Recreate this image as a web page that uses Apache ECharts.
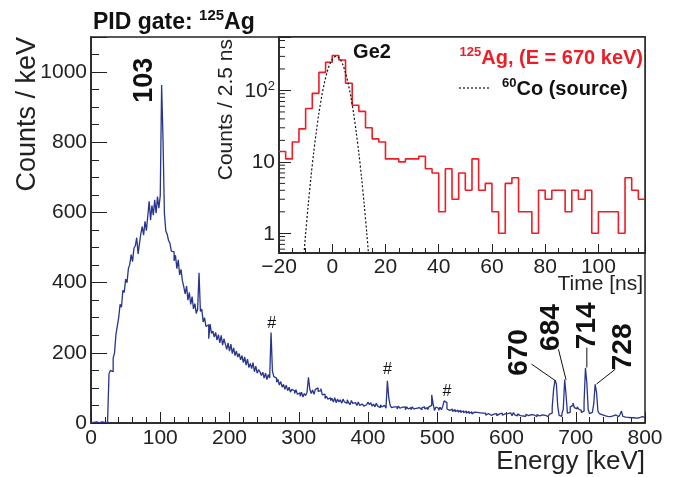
<!DOCTYPE html>
<html><head><meta charset="utf-8">
<script src="https://cdn.jsdelivr.net/npm/echarts@6/dist/echarts.min.js"></script>
<style>html,body{margin:0;padding:0;background:#fff}#c{width:677px;height:477px}</style>
</head><body><div id="c"></div>
<script>
// ---------------- data ----------------
const energyStart = 0;      // keV
const energyBinWidth = 2;   // keV
const energyCounts = [
  1, 2, 1, 3, 2, 1, 2, 3, 2, 2,
  3, 2, 8, 140, 150, 146, 185, 200, 252, 276,
  300, 338, 330, 378, 372, 410, 400, 440, 452, 480,
  460, 498, 505, 528, 482, 512, 540, 560, 535, 575,
  548, 590, 632, 578, 620, 592, 636, 598, 645, 612,
  648, 963, 808, 598, 548, 538, 520, 512, 490, 488,
  462, 478, 440, 465, 422, 438, 405, 388, 368, 390,
  350, 372, 338, 360, 325, 340, 312, 325, 428, 318,
  325, 288, 300, 275, 280, 240, 282, 255, 262, 245,
  258, 236, 252, 228, 250, 222, 240, 225, 210, 228,
  205, 225, 198, 214, 192, 205, 188, 198, 180, 192,
  172, 188, 165, 182, 158, 170, 155, 172, 146, 162,
  142, 152, 146, 135, 145, 128, 142, 124, 138, 128,
  258, 148, 132, 128, 116, 124, 108, 118, 102, 110,
  96, 108, 92, 102, 88, 96, 92, 84, 95, 82,
  86, 76, 88, 74, 84, 78, 88, 130, 96, 84,
  94, 82, 96, 100, 90, 92, 98, 80, 82, 70,
  76, 68, 72, 64, 70, 60, 72, 58, 68, 60,
  66, 56, 68, 60, 56, 66, 58, 52, 64, 56,
  58, 62, 50, 60, 50, 54, 58, 48, 52, 56,
  60, 52, 58, 48, 54, 46, 56, 48, 44, 52,
  46, 50, 48, 42, 120, 72, 50, 44, 46, 42,
  46, 40, 48, 42, 45, 40, 46, 38, 46, 40,
  44, 38, 46, 40, 42, 38, 44, 40, 38, 44,
  46, 40, 44, 38, 46, 50, 80, 55, 36, 45,
  42, 36, 45, 38, 48, 63, 58, 40, 36, 38,
  40, 33, 38, 32, 37, 31, 36, 30, 35, 29,
  34, 28, 33, 27, 32, 26, 31, 27, 30, 25,
  29, 24, 28, 23, 28, 22, 27, 24, 22, 27,
  25, 22, 27, 21, 26, 23, 28, 22, 26, 21,
  27, 22, 29, 24, 21, 30, 23, 20, 26, 21,
  25, 20, 24, 19, 25, 21, 18, 24, 20, 23,
  23, 18, 24, 20, 17, 23, 19, 22, 24, 18,
  21, 25, 28, 45, 95, 122, 112, 48, 22, 19,
  26, 40, 124, 80, 28, 30, 46, 50, 57, 44,
  40, 46, 40, 36, 30, 34, 58, 157, 115, 38,
  27, 30, 26, 55, 110, 88, 34, 27, 24, 25,
  21, 25, 19, 23, 18, 22, 20, 17, 23, 19,
  18, 22, 25, 34, 19, 17, 20, 16, 19, 15,
  18, 15, 19, 14, 18, 15, 14, 18, 15, 16
];

const timeStart = -20;      // ns
const timeBinWidth = 2.5;   // ns
const agTimeCounts = [
  14, 11, 19, 29, 56, 91, 179, 248, 308, 267,
  126, 62, 51, 30, 21, 19, 11, 11, 10, 11,
  11, 12, 8, 7, 2, 8, 3, 7, 4, 11,
  4, 5, 2, 1, 5, 6, 2, 2, 1, 4,
  3, 4, 4, 2, 4, 3, 4, 1, 2, 2,
  2, 1, 6, 4, 3
];

const coTimes  = [-11, -10, -9, -8, -7, -6, -5, -4, -3, -2, -1, 0, 1, 1.5, 2, 3, 4, 5, 6, 7, 8, 9, 10, 11, 12, 13, 14];
const coCounts = [0.35, 0.98, 2.55, 6.1, 13.2, 26.3, 48.3, 81, 125, 177, 229, 272, 297, 300, 297, 272, 229, 177, 125, 81, 48.3, 26.3, 13.2, 6.1, 2.55, 0.98, 0.35];

const logMinorTicks = [0.6, 0.7, 0.8, 0.9, 2, 3, 4, 5, 6, 7, 8, 9, 20, 30, 40, 50, 60, 70, 80, 90, 200, 300, 400, 500];

const AG_NAME = '125Ag, (E = 670 keV)';
const CO_NAME = '60Co (source)';

// ---------------- build ----------------
const FONT = '"Liberation Sans", Arial, Helvetica, sans-serif';
const INK = '#222';
const NAVY = '#27358b';
const RED = '#ee1c25';

function histData(start, width, vals) {
  const d = vals.map((v, i) => [start + i * width, v]);
  d.push([start + vals.length * width, vals[vals.length - 1]]);
  return d;
}
const mainData = histData(energyStart, energyBinWidth, energyCounts);
const agData = histData(timeStart, timeBinWidth, agTimeCounts);
const coData = coTimes.map((t, i) => [t, coCounts[i]]);
const tMin = timeStart, tMax = timeStart + agTimeCounts.length * timeBinWidth;

const axisLine = { show: true, onZero: false, lineStyle: { color: INK, width: 1.5 } };
const noLine = { show: false, onZero: false };
const labelBase = { color: INK, fontSize: 21, fontFamily: FONT };

const chart = echarts.init(document.getElementById('c'), null, { renderer: 'canvas' });

const option = {
  animation: false,
  backgroundColor: '#fff',
  grid: [
    { left: 91, top: 37, width: 554, height: 386, show: true, borderColor: INK, borderWidth: 1.5, backgroundColor: 'transparent' },
    { left: 279, top: 37, width: 366, height: 216, show: true, borderColor: INK, borderWidth: 1.5, backgroundColor: '#fff' }
  ],
  xAxis: [
    { gridIndex: 0, type: 'value', position: 'bottom', min: 0, max: 800, interval: 100,
      axisLine, axisTick: { inside: true, length: 11, lineStyle: { color: INK, width: 1 } },
      axisLabel: Object.assign({ margin: 5 }, labelBase), splitLine: { show: false } },
    { gridIndex: 0, type: 'value', position: 'bottom', min: 0, max: 800, interval: 20,
      axisLine: noLine, axisTick: { inside: true, length: 6, lineStyle: { color: INK, width: 1 } },
      axisLabel: { show: false }, splitLine: { show: false } },
    { gridIndex: 1, type: 'value', position: 'bottom', min: tMin, max: tMax, interval: 20,
      axisLine, axisTick: { inside: true, length: 9, lineStyle: { color: INK, width: 1 } },
      axisLabel: Object.assign({ margin: 4, formatter: v => {
        if (Math.abs(v % 20) > 1e-9 || v > 100) return '';
        return v < 0 ? '\u2212' + Math.abs(v) : String(v);
      } }, labelBase), splitLine: { show: false } },
    { gridIndex: 1, type: 'value', position: 'bottom', min: tMin, max: tMax, interval: 5,
      axisLine: noLine, axisTick: { inside: true, length: 5, lineStyle: { color: INK, width: 1 } },
      axisLabel: { show: false }, splitLine: { show: false } }
  ],
  yAxis: [
    { gridIndex: 0, type: 'value', position: 'left', min: 0, max: 1100, interval: 200,
      axisLine, axisTick: { inside: true, length: 16, lineStyle: { color: INK, width: 1 } },
      axisLabel: Object.assign({ margin: 4, formatter: v => (v % 200 === 0 && v <= 1000) ? String(v) : '' }, labelBase),
      splitLine: { show: false } },
    { gridIndex: 0, type: 'value', position: 'left', min: 0, max: 1100, interval: 50,
      axisLine: noLine, axisTick: { inside: true, length: 8, lineStyle: { color: INK, width: 1 } },
      axisLabel: { show: false }, splitLine: { show: false } },
    { gridIndex: 1, type: 'log', logBase: 10, position: 'left', min: 0.53, max: 560,
      axisLine, axisTick: { inside: true, length: 12, lineStyle: { color: INK, width: 1 } },
      axisLabel: Object.assign({ margin: 4, formatter: v => {
        const l = Math.log10(v), r = Math.round(l);
        if (Math.abs(l - r) > 1e-6) return '';
        if (r === 0) return '{b|1}';
        if (r === 1) return '{b|10}';
        return '{b|10}{s|' + r + '}';
      }, rich: {
        b: { fontSize: 21, color: INK, fontFamily: FONT, lineHeight: 22, verticalAlign: 'bottom' },
        s: { fontSize: 13, color: INK, fontFamily: FONT, lineHeight: 13, verticalAlign: 'top' }
      } }, labelBase),
      splitLine: { show: false } }
  ],
  legend: [
    { data: [{ name: AG_NAME, icon: 'none' }], right: 34, top: 46, padding: 0, itemWidth: 0, itemHeight: 14, itemGap: 0,
      selectedMode: false,
      formatter: () => '{s|125}{b|Ag, (E = 670 keV)}',
      textStyle: { color: RED, fontFamily: FONT, fontWeight: 'bold', fontSize: 20,
        rich: { s: { fontSize: 13, fontWeight: 'bold', color: RED, fontFamily: FONT, lineHeight: 13, verticalAlign: 'top' },
                b: { fontSize: 20, fontWeight: 'bold', color: RED, fontFamily: FONT, lineHeight: 22, verticalAlign: 'bottom' } } } },
    { data: [{ name: CO_NAME, icon: 'none' }], left: 459, top: 77, padding: 0, itemWidth: 38, itemHeight: 14,
      selectedMode: false,
      formatter: () => '{s|60}{b|Co (source)}',
      textStyle: { color: '#111', fontFamily: FONT, fontWeight: 'bold', fontSize: 20,
        rich: { s: { fontSize: 13, fontWeight: 'bold', color: '#111', fontFamily: FONT, lineHeight: 13, verticalAlign: 'top' },
                b: { fontSize: 20, fontWeight: 'bold', color: '#111', fontFamily: FONT, lineHeight: 22, verticalAlign: 'bottom' } } } }
  ],
  series: [
    { name: 'Spectrum', type: 'line', xAxisIndex: 0, yAxisIndex: 0, step: 'end', data: mainData,
      symbol: 'none', lineStyle: { color: NAVY, width: 1.3 }, itemStyle: { color: NAVY }, silent: true, z: 3 },
    { name: AG_NAME, type: 'line', xAxisIndex: 2, yAxisIndex: 2, step: 'end', data: agData,
      symbol: 'none', lineStyle: { color: RED, width: 1.6 }, itemStyle: { color: RED }, silent: true, z: 4 },
    { name: CO_NAME, type: 'line', xAxisIndex: 2, yAxisIndex: 2, data: coData, smooth: 0.3,
      symbol: 'none', lineStyle: { color: '#111', width: 1.2, type: [2, 2] }, itemStyle: { color: '#111' }, silent: true, z: 5 },
    { name: 'logMinor', type: 'custom', xAxisIndex: 2, yAxisIndex: 2, silent: true, z: 6,
      data: logMinorTicks.map(v => [tMin, v]),
      renderItem: (params, api) => {
        const p = api.coord([api.value(0), api.value(1)]);
        return { type: 'line', shape: { x1: p[0], y1: p[1], x2: p[0] + 6, y2: p[1] }, style: { stroke: INK, lineWidth: 1 } };
      } }
  ]
};
chart.setOption(option);

// ---------------- annotations (data coordinates) ----------------
const peakLabels = [
  { text: '103', at: [77.5, 977], size: 27 },
  { text: '670', at: [618, 201], size: 28 },
  { text: '684', at: [665, 272], size: 28 },
  { text: '714', at: [716, 277], size: 28 },
  { text: '728', at: [768, 217], size: 28 }
];
const leaders = [
  [[636, 168], [671, 120]],
  [[675, 210], [686, 123]],
  [[716, 215], [716, 158]],
  [[757, 153], [730, 111]]
];
const hashMarks = [[261, 282], [428, 153], [514, 89]];

const px = p => chart.convertToPixel({ xAxisIndex: 0, yAxisIndex: 0 }, p);
const graphics = [];
peakLabels.forEach(l => {
  const p = px(l.at);
  graphics.push({ type: 'text', x: p[0], y: p[1], rotation: Math.PI / 2, z: 20,
    style: { text: l.text, fill: '#111', fontSize: l.size, fontWeight: 'bold', fontFamily: FONT, align: 'center', verticalAlign: 'middle' } });
});
leaders.forEach(s => {
  const a = px(s[0]), b = px(s[1]);
  graphics.push({ type: 'line', z: 20, shape: { x1: a[0], y1: a[1], x2: b[0], y2: b[1] }, style: { stroke: '#111', lineWidth: 1 } });
});
hashMarks.forEach(h => {
  const p = px(h);
  graphics.push({ type: 'text', x: p[0], y: p[1], z: 20,
    style: { text: '#', fill: '#111', fontSize: 16, fontFamily: FONT, align: 'center', verticalAlign: 'middle' } });
});
// legend line sample for the 60Co curve (dotted)
graphics.push({ type: 'line', z: 20, shape: { x1: 459, y1: 88, x2: 491, y2: 88 },
  style: { stroke: '#111', lineWidth: 1.2, lineDash: [2, 2] } });
// titles
graphics.push({ type: 'text', x: 93, y: 21, z: 20,
  style: { text: '{a|PID gate: }{s|125}{a|Ag}', align: 'left', verticalAlign: 'middle', fontFamily: FONT,
    rich: { a: { fontSize: 23, fontWeight: 'bold', fill: '#111', fontFamily: FONT, lineHeight: 26, verticalAlign: 'bottom' },
            s: { fontSize: 15, fontWeight: 'bold', fill: '#111', fontFamily: FONT, lineHeight: 15, verticalAlign: 'top' } } } });
graphics.push({ type: 'text', x: 28, y: 37, rotation: Math.PI / 2, z: 20,
  style: { text: 'Counts / keV', fill: INK, fontSize: 27, fontFamily: FONT, align: 'right', verticalAlign: 'middle' } });
graphics.push({ type: 'text', x: 645, y: 462, z: 20,
  style: { text: 'Energy [keV]', fill: INK, fontSize: 26, fontFamily: FONT, align: 'right', verticalAlign: 'middle' } });
graphics.push({ type: 'text', x: 226, y: 39, rotation: Math.PI / 2, z: 20,
  style: { text: 'Counts / 2.5 ns', fill: INK, fontSize: 21, fontFamily: FONT, align: 'right', verticalAlign: 'middle' } });
graphics.push({ type: 'text', x: 643, y: 284, z: 20,
  style: { text: 'Time [ns]', fill: INK, fontSize: 21, fontFamily: FONT, align: 'right', verticalAlign: 'middle' } });
graphics.push({ type: 'text', x: 372, y: 52, z: 20,
  style: { text: 'Ge2', fill: '#111', fontSize: 20, fontWeight: 'bold', fontFamily: FONT, align: 'center', verticalAlign: 'middle' } });

chart.setOption({ graphic: graphics });
</script>
</body></html>
